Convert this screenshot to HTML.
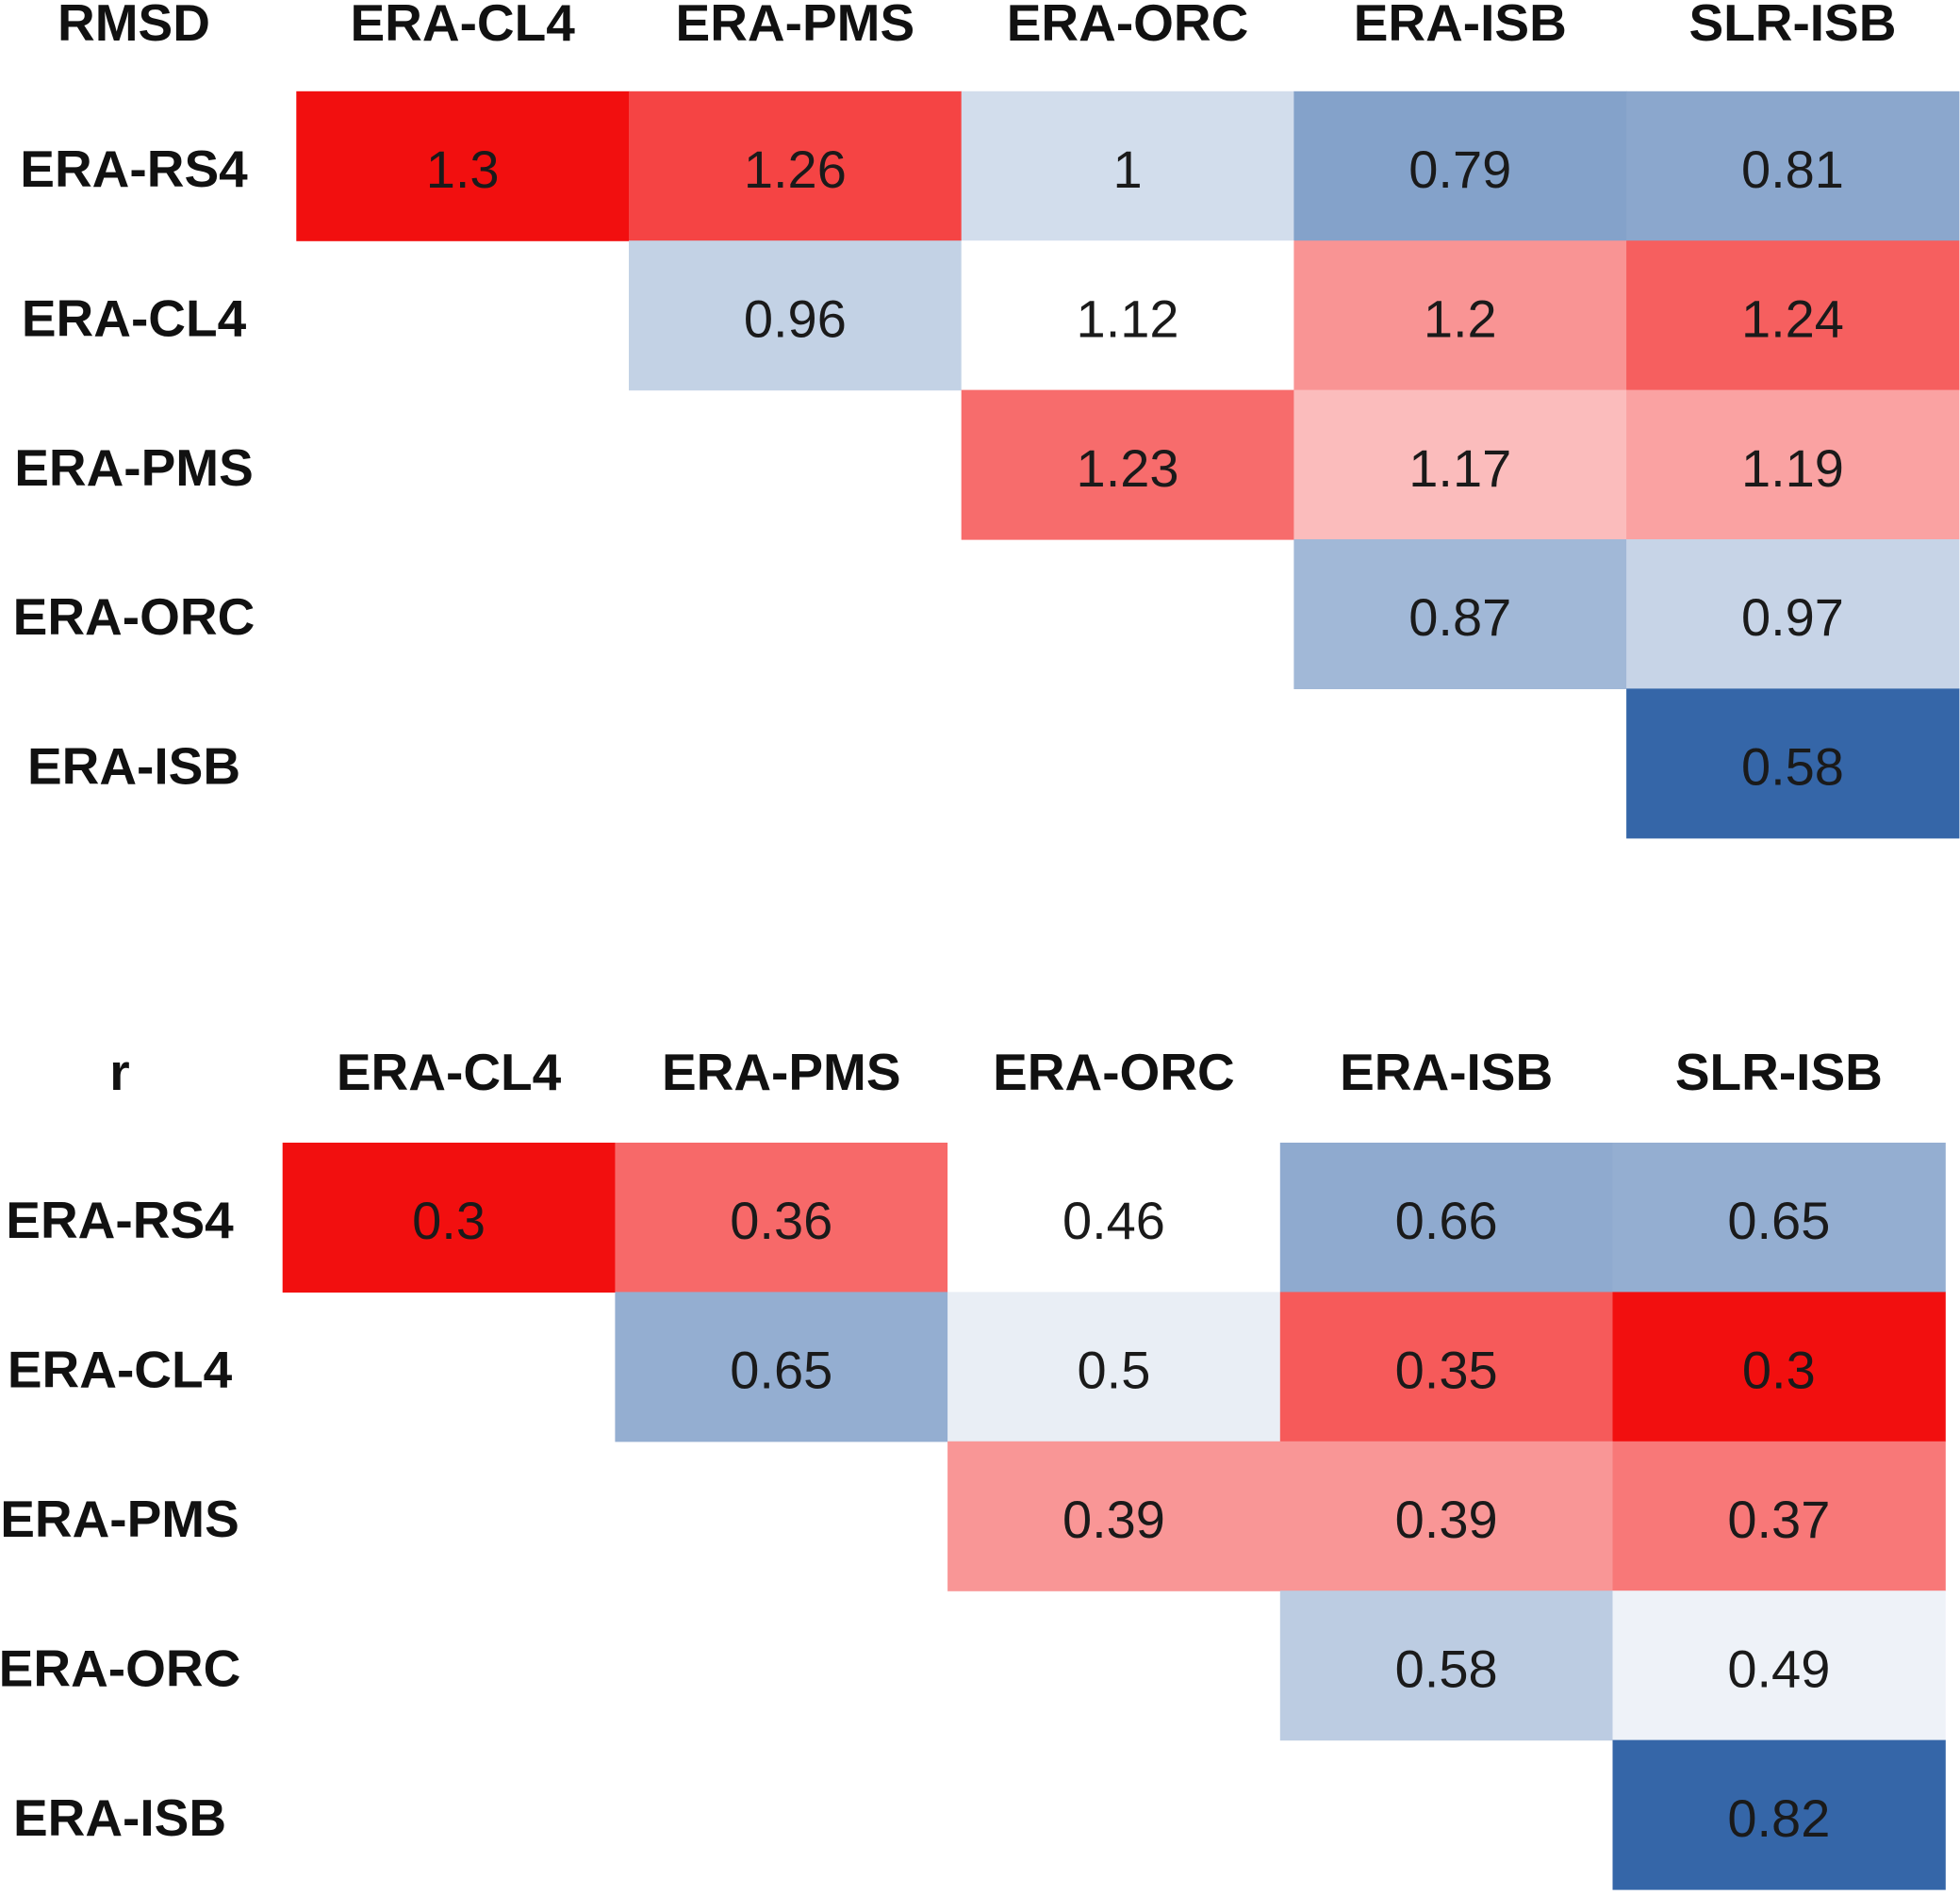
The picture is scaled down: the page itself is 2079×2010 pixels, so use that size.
<!DOCTYPE html>
<html><head><meta charset="utf-8"><style>
html,body{margin:0;padding:0;background:#fff;}
body{width:2079px;height:2005px;overflow:hidden;position:relative;font-family:"Liberation Sans",Arial,sans-serif;}
svg text{font-family:"Liberation Sans",Arial,sans-serif;}
</style></head><body>
<svg id="chart" width="2079" height="2005" viewBox="0 0 2079 2005" xmlns="http://www.w3.org/2000/svg"></svg>
<script>
const colLabels = ["ERA-CL4","ERA-PMS","ERA-ORC","ERA-ISB","SLR-ISB"];
const rowLabels = ["ERA-RS4","ERA-CL4","ERA-PMS","ERA-ORC","ERA-ISB"];
const rmsdValues = [
  [1.3,1.26,1,0.79,0.81],
  [null,0.96,1.12,1.2,1.24],
  [null,null,1.23,1.17,1.19],
  [null,null,null,0.87,0.97],
  [null,null,null,null,0.58]
];
const rValues = [
  [0.3,0.36,0.46,0.66,0.65],
  [null,0.65,0.5,0.35,0.3],
  [null,null,0.39,0.39,0.37],
  [null,null,null,0.58,0.49],
  [null,null,null,null,0.82]
];
const rmsdScale = [1.3,1.12,0.58];   // red, white, blue
const rScale = [0.3,0.46,0.82];

const svg = document.getElementById('chart');
const NS = "http://www.w3.org/2000/svg";
const RED=[242,15,15], WHITE=[255,255,255], BLUE=[53,102,168];
function mix(a,b,t){t=Math.max(0,Math.min(1,t));return 'rgb('+a.map((v,i)=>Math.round(v+(b[i]-v)*t)).join(',')+')';}
function color(v,s){
  const [r,w,b]=s;
  if ((v-w)*(r-w) > 0) return mix(WHITE,RED,(v-w)/(r-w));
  return mix(WHITE,BLUE,(v-w)/(b-w));
}
function el(tag,attrs,parent){const e=document.createElementNS(NS,tag);for(const k in attrs)e.setAttribute(k,attrs[k]);parent.appendChild(e);return e;}

function drawTable(cfg){
  const g=el('g',{},svg);
  
  
  const cw=352.7, rh=158.4;
  const xPos=j=>cfg.x0+j*cw, yPos=i=>cfg.y0+i*rh;
  const t=el('text',{x:cfg.labelX,y:cfg.headerY,'text-anchor':'middle','font-size':55,'font-weight':'bold',fill:'#111'},g);
  t.textContent=cfg.title;
  
  
  colLabels.forEach((c,j)=>{
    const h=el('text',{x:xPos(j)+cw/2,y:cfg.headerY,'text-anchor':'middle','font-size':55,'font-weight':'bold',fill:'#111'},g);
    h.textContent=c;
    
    
  });
  rowLabels.forEach((r,i)=>{
    const h=el('text',{x:cfg.labelX,y:yPos(i)+rh/2+22,'text-anchor':'middle','font-size':55,'font-weight':'bold',fill:'#111'},g);
    h.textContent=r;
    
    
  });
  cfg.values.forEach((row,i)=>row.forEach((v,j)=>{
    if(v===null) return;
    const rc=el('rect',{x:xPos(j),y:yPos(i),width:cw+0.6,height:rh+0.6,fill:color(v,cfg.scale)},g);
    
    
    const tx=el('text',{x:xPos(j)+cw/2,y:yPos(i)+rh/2+23,'text-anchor':'middle','font-size':56,fill:'#1a1a1a'},g);
    tx.textContent=String(v);
    
    
  }));
}
drawTable({name:'rmsd-table',title:'RMSD',values:rmsdValues,scale:rmsdScale,x0:314.3,y0:96.8,headerY:43,labelX:142});
drawTable({name:'correlation-table',title:'r',values:rValues,scale:rScale,x0:299.7,y0:1212,headerY:1156,labelX:127});
</script>
</body></html>
